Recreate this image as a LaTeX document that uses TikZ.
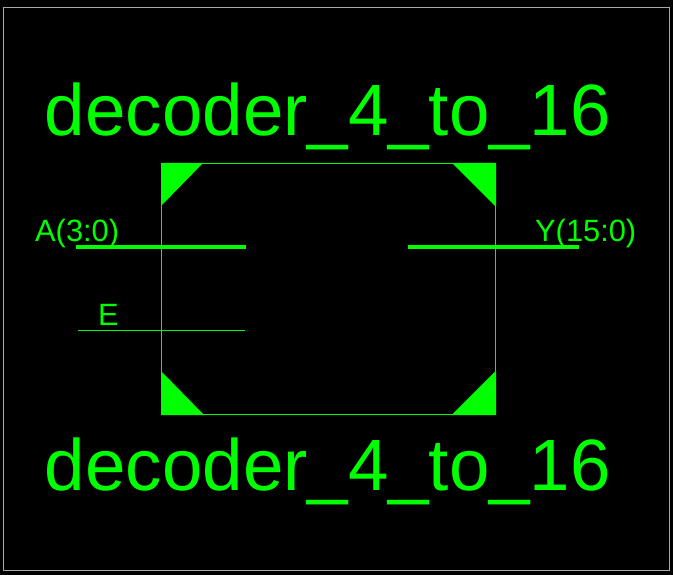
\documentclass[tikz,border=0pt]{standalone}
\usepackage{fontspec}
\setmainfont{Liberation Sans}
\definecolor{grn}{RGB}{0,255,0}
\definecolor{frm}{RGB}{170,170,170}
\tikzset{
  title/.style={text=grn,font=\fontsize{72.7}{72.7}\selectfont,inner sep=0pt,anchor=base west},
  pin/.style={text=grn,font=\fontsize{30.8}{30.8}\selectfont,inner sep=0pt,anchor=base west},
  wire/.style={draw=grn,line width=0.75pt},
  bus/.style={draw=grn,line width=4pt},
  corner/.style={fill=grn,draw=none}
}
\begin{document}
\begin{tikzpicture}[x=1pt,y=-1pt,line cap=butt]
\useasboundingbox (0,0) rectangle (673,575);
\fill[black] (0,0) rectangle (673,575);
\draw[frm,line width=0.75pt] (3.5,7.5) rectangle (669.5,570.5);
\coordinate (tl) at (161.5,163.5);
\coordinate (tr) at (495.5,163.5);
\coordinate (bl) at (161.5,414.5);
\coordinate (br) at (495.5,414.5);
\draw[wire] (tl) -- (tr) -- (br) -- (bl) -- cycle;
\fill[corner] (161,163) -- (203,163) -- (161,206) -- cycle;
\fill[corner] (496,163) -- (452,163) -- (496,207) -- cycle;
\fill[corner] (161,415) -- (204,415) -- (161,371) -- cycle;
\fill[corner] (496,415) -- (451.5,415) -- (496,370.5) -- cycle;
\node[title] (t1) at (44.8,136) {decoder\_4\_to\_16};
\node[title] (t2) at (44.8,490) {decoder\_4\_to\_16};
\node[pin] (a) at (35,242) {A(3:0)};
\node[pin] (y) at (535,242) {Y(15:0)};
\node[pin] (e) at (98,326) {E};
\coordinate (a1) at (76,247);
\coordinate (a2) at (246,247);
\coordinate (y1) at (408,247);
\coordinate (y2) at (579,247);
\coordinate (e1) at (78,330.5);
\coordinate (e2) at (245,330.5);
\draw[bus] (a1) -- (a2);
\draw[bus] (y1) -- (y2);
\draw[wire] (e1) -- (e2);
\end{tikzpicture}
\end{document}
